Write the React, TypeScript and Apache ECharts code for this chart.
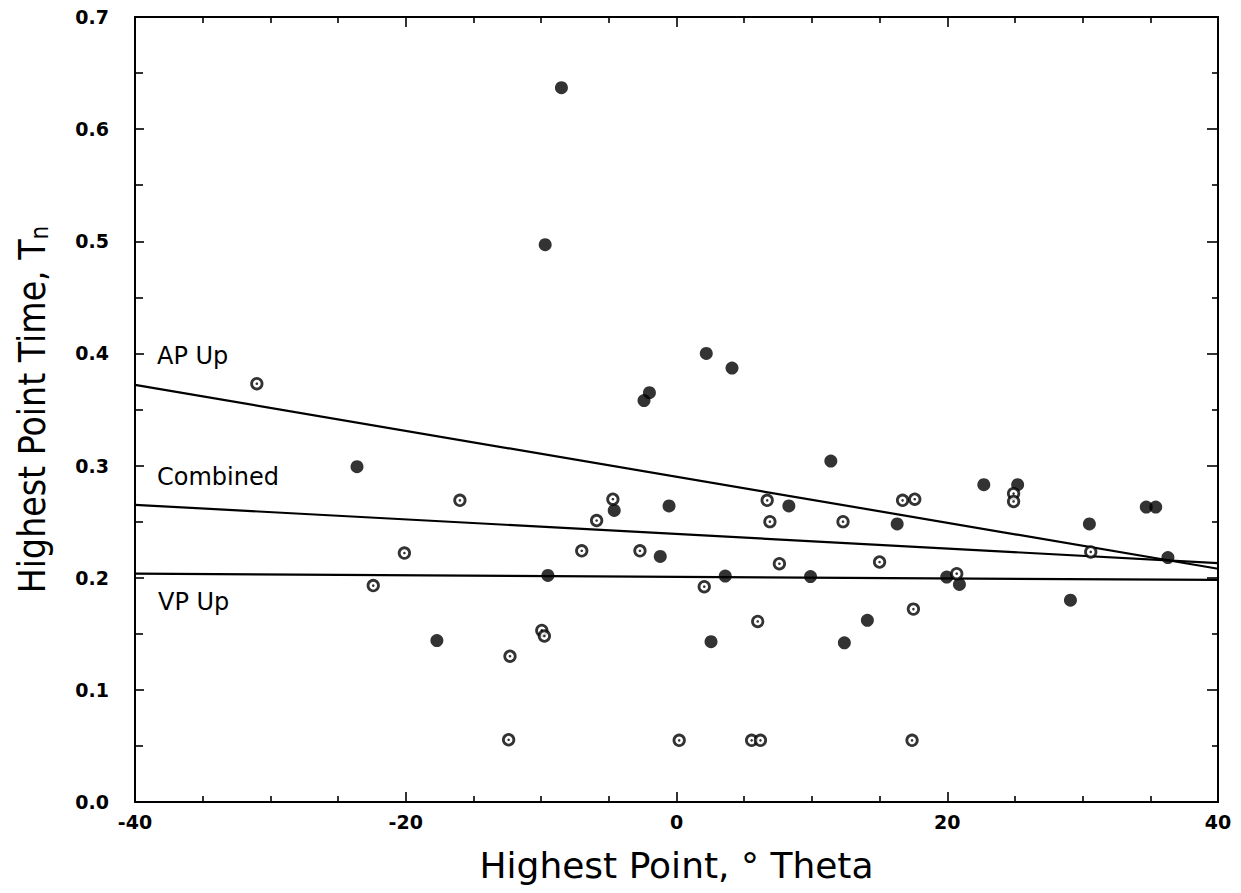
import React, { useEffect, useRef } from "react";
import * as echarts from "echarts";

// Filled circles
const filledTheta = [-8.5, -9.7, 2.2, 4.1, -2.0, -2.4, -23.6, 11.4, -4.6, -0.55, 8.3, 16.3, 22.7, 25.2, 34.7, 35.4, 30.5, 36.3, -1.2, -9.5, 3.6, 9.9, 19.96, 20.9, 29.1, -17.7, 2.55, 12.4, 14.1];
const filledTime = [0.637, 0.497, 0.4, 0.387, 0.365, 0.358, 0.299, 0.304, 0.26, 0.264, 0.264, 0.248, 0.283, 0.283, 0.263, 0.263, 0.248, 0.218, 0.219, 0.202, 0.2015, 0.201, 0.2006, 0.194, 0.18, 0.144, 0.143, 0.142, 0.162];

// Open circles (with centre dot)
const openTheta = [-31.0, -16.0, -20.1, -22.4, -4.7, -5.9, 6.7, 6.9, 12.3, 16.7, 17.6, -7.0, -2.7, 7.6, 15.0, 2.05, 17.5, 24.9, 24.9, 30.6, 20.7, -12.3, -12.4, -9.95, -9.76, 6.0, 0.2, 5.55, 6.2, 17.4];
const openTime = [0.373, 0.269, 0.222, 0.193, 0.27, 0.251, 0.269, 0.25, 0.25, 0.269, 0.27, 0.224, 0.224, 0.2125, 0.214, 0.192, 0.172, 0.275, 0.268, 0.223, 0.2036, 0.13, 0.0555, 0.153, 0.148, 0.161, 0.055, 0.055, 0.055, 0.055];

// Regression lines (endpoints)
const lineTheta = [-40, 40];
const apUpLine = [0.372, 0.208];
const combinedLine = [0.265, 0.213];
const vpUpLine = [0.2036, 0.198];
const lineLabels = ["AP Up", "Combined", "VP Up"];

const zip = (xs: number[], ys: number[]) => xs.map((x, i) => [x, ys[i]]);

export default function App() {
  const ref = useRef<HTMLDivElement>(null);
  useEffect(() => {
    if (!ref.current) return;
    const chart = echarts.init(ref.current, undefined, { renderer: "svg" });
    const tickFont = { fontFamily: "DejaVu Sans", fontSize: 19, fontWeight: "bold", color: "#000" };
    const condensed = "DejaVu Sans Condensed, DejaVu Sans";
    const axisLine = { show: true, onZero: false, lineStyle: { color: "#000", width: 2 } };
    const tick = (len: number) => ({ show: true, inside: true, length: len, lineStyle: { color: "#000", width: 1.6 } });
    const lineStyle = { color: "#000", width: 2.2 };
    const lineSeries = (vals: number[], name: string) => ({
      type: "line",
      name,
      data: zip(lineTheta, vals),
      symbol: "none",
      lineStyle,
      silent: true,
      z: 1,
    });
    const labelStyle = { fontFamily: "DejaVu Sans", fontSize: 24, fill: "#000", verticalAlign: "middle", align: "left" };
    chart.setOption({
      animation: false,
      backgroundColor: "#fff",
      grid: { left: 135, right: 23, top: 17, bottom: 91 },
      xAxis: [
        {
          type: "value",
          min: -40,
          max: 40,
          interval: 20,
          position: "bottom",
          axisLine,
          splitLine: { show: false },
          axisTick: tick(10),
          minorTick: { ...tick(6), splitNumber: 4 },
          axisLabel: { ...tickFont, margin: 10, formatter: (v: number) => String(v) },
          name: "Highest Point, \u00B0 Theta",
          nameLocation: "middle",
          nameGap: 45,
          nameTextStyle: { fontFamily: "DejaVu Sans", fontSize: 36, color: "#000" },
        },
        {
          type: "value",
          min: -40,
          max: 40,
          interval: 20,
          position: "top",
          axisLine,
          splitLine: { show: false },
          axisTick: tick(10),
          minorTick: { ...tick(6), splitNumber: 4 },
          axisLabel: { show: false },
        },
      ],
      yAxis: [
        {
          type: "value",
          min: 0,
          max: 0.7,
          interval: 0.1,
          position: "left",
          axisLine,
          splitLine: { show: false },
          axisTick: tick(9),
          minorTick: { ...tick(8), splitNumber: 2 },
          axisLabel: { ...tickFont, margin: 26, formatter: (v: number) => v.toFixed(1) },
          name: "Highest Point Time, T{sub|n}",
          nameLocation: "middle",
          nameGap: 83,
          nameRotate: 90,
          nameTextStyle: {
            fontFamily: condensed,
            fontSize: 37,
            color: "#000",
            rich: {
              sub: { fontFamily: condensed, fontSize: 24, color: "#000", verticalAlign: "bottom", padding: [16, 0, 0, 0] },
            },
          },
        },
        {
          type: "value",
          min: 0,
          max: 0.7,
          interval: 0.1,
          position: "right",
          axisLine,
          splitLine: { show: false },
          axisTick: tick(11),
          minorTick: { ...tick(6), splitNumber: 2 },
          axisLabel: { show: false },
        },
      ],
      series: [
        lineSeries(apUpLine, lineLabels[0]),
        lineSeries(combinedLine, lineLabels[1]),
        lineSeries(vpUpLine, lineLabels[2]),
        {
          type: "scatter",
          name: "Filled",
          data: zip(filledTheta, filledTime),
          symbol: "circle",
          symbolSize: 13,
          itemStyle: { color: "#000" },
          z: 3,
        },
        {
          type: "scatter",
          name: "Open",
          data: zip(openTheta, openTime),
          symbol: "circle",
          symbolSize: 10.5,
          itemStyle: { color: "#fff", borderColor: "#000", borderWidth: 2.8 },
          z: 4,
        },
        {
          type: "scatter",
          name: "OpenDot",
          data: zip(openTheta, openTime),
          symbol: "circle",
          symbolSize: 2.6,
          itemStyle: { color: "#000" },
          z: 5,
          silent: true,
        },
      ],
      graphic: [
        { type: "text", x: 157, y: 356, style: { ...labelStyle, text: lineLabels[0] } },
        { type: "text", x: 157, y: 477, style: { ...labelStyle, text: lineLabels[1] } },
        { type: "text", x: 158, y: 602, style: { ...labelStyle, text: lineLabels[2] } },
      ],
    });
    return () => chart.dispose();
  }, []);
  return <div ref={ref} style={{ position: "fixed", left: 0, top: 0, width: 1241, height: 893, background: "#fff" }} />;
}
